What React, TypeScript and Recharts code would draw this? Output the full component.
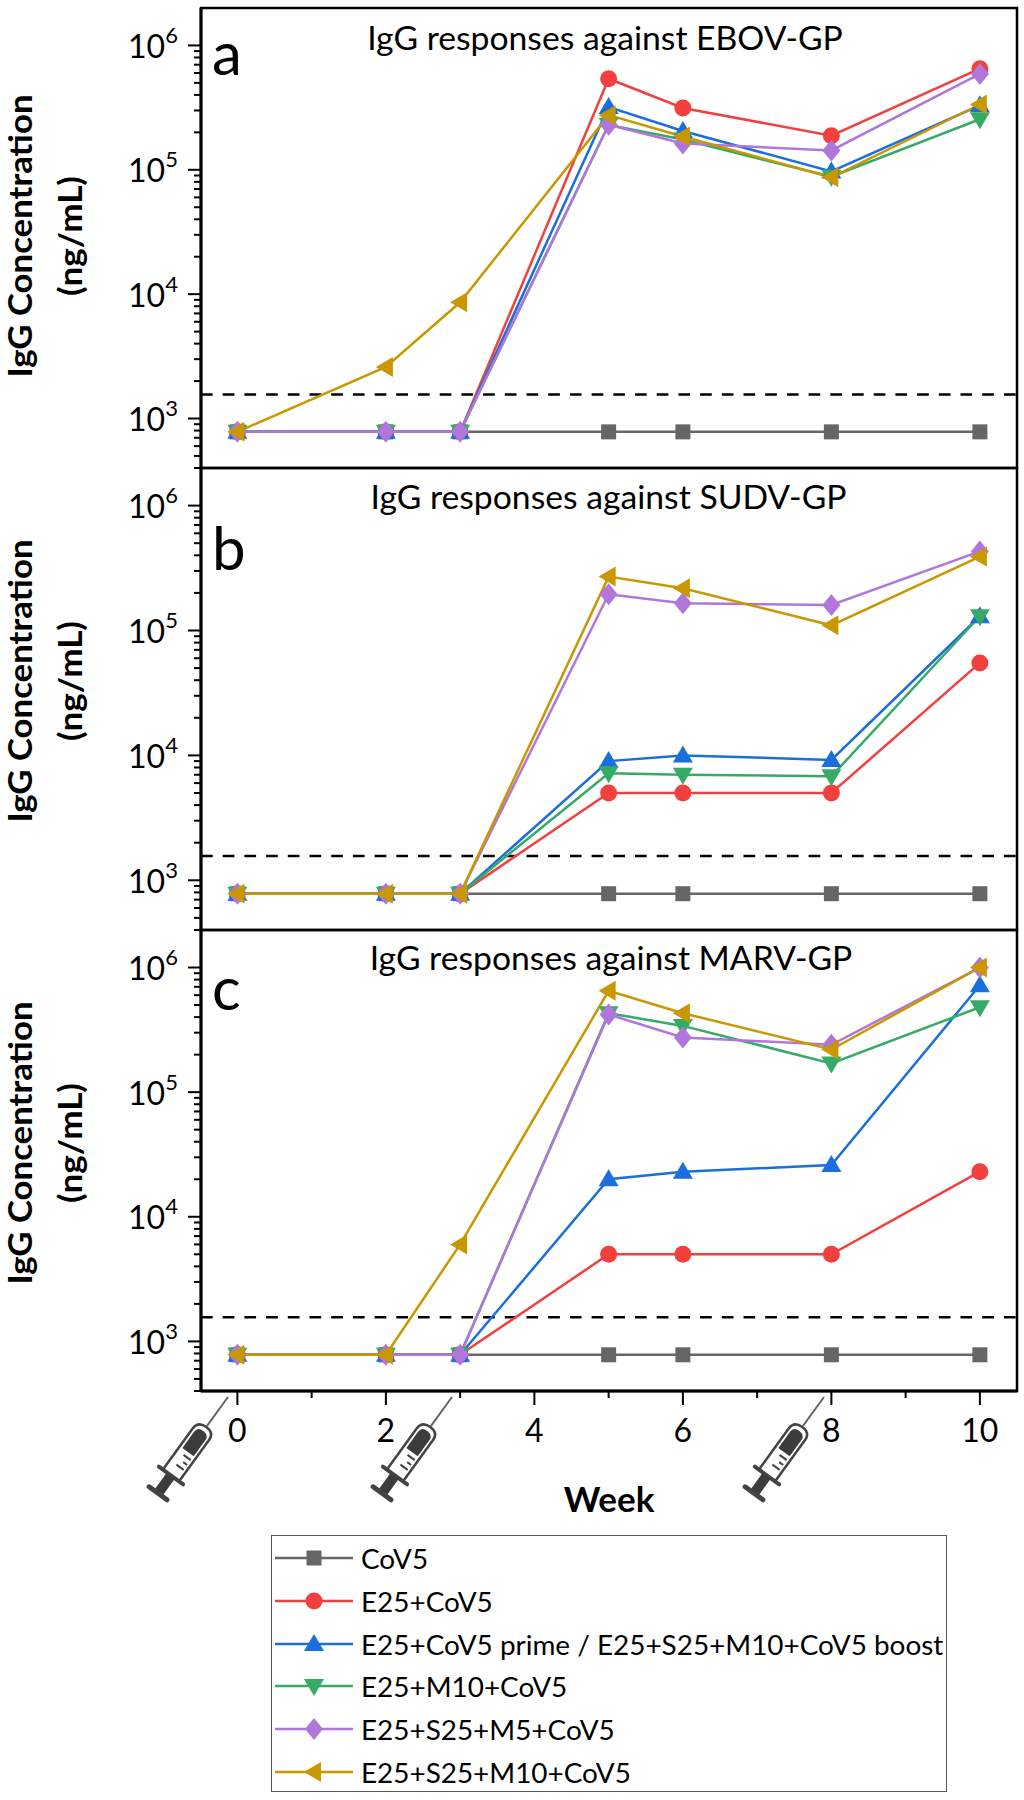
import React from 'react';
import { LineChart, Line, XAxis, YAxis, ReferenceLine, ReferenceArea, Legend } from 'recharts';

const weeks = [0, 2, 3, 5, 6, 8, 10];
const weekTicks = [0, 1, 2, 3, 4, 5, 6, 7, 8, 9, 10];
const decades = [1e3, 1e4, 1e5, 1e6];
const minorTicks = [
  400, 500, 600, 700, 800, 900,
  2e3, 3e3, 4e3, 5e3, 6e3, 7e3, 8e3, 9e3,
  2e4, 3e4, 4e4, 5e4, 6e4, 7e4, 8e4, 9e4,
  2e5, 3e5, 4e5, 5e5, 6e5, 7e5, 8e5, 9e5,
];
const cutoff = 1562;

const names = [
  'CoV5',
  'E25+CoV5',
  'E25+CoV5 prime / E25+S25+M10+CoV5 boost',
  'E25+M10+CoV5',
  'E25+S25+M5+CoV5',
  'E25+S25+M10+CoV5',
];
const colors = ['#666666', '#f2403f', '#1a6fdc', '#36ab68', '#b076dc', '#c99700'];
const shapes = ['square', 'circle', 'up', 'down', 'diamond', 'left'];

const control = [781, 781, 781, 781, 781, 781, 781];

const ebov = [
  control,
  [781, 781, 781, 5.4e5, 3.14e5, 1.88e5, 6.5e5],
  [781, 781, 781, 3.2e5, 2.05e5, 9.7e4, 3.3e5],
  [781, 781, 781, 2.3e5, 1.75e5, 8.8e4, 2.55e5],
  [781, 781, 781, 2.3e5, 1.63e5, 1.43e5, 5.9e5],
  [781, 2.6e3, 8.6e3, 2.75e5, 1.85e5, 8.7e4, 3.35e5],
];
const sudv = [
  control,
  [781, 781, 781, 5e3, 5e3, 5e3, 5.5e4],
  [781, 781, 781, 9e3, 1e4, 9.2e3, 1.3e5],
  [781, 781, 781, 7.2e3, 7e3, 6.8e3, 1.3e5],
  [781, 781, 781, 1.95e5, 1.65e5, 1.6e5, 4.3e5],
  [781, 781, 781, 2.7e5, 2.18e5, 1.1e5, 3.9e5],
];
const marv = [
  control,
  [781, 781, 781, 5e3, 5e3, 5e3, 2.3e4],
  [781, 781, 781, 2e4, 2.3e4, 2.6e4, 7.2e5],
  [781, 781, 781, 4.3e5, 3.4e5, 1.7e5, 4.8e5],
  [781, 781, 781, 4.2e5, 2.75e5, 2.4e5, 1e6],
  [781, 781, 6e3, 6.5e5, 4.3e5, 2.2e5, 1e6],
];

const FONT = 'Lato, sans-serif';

const makeRows = (panel: number[][]) =>
  weeks.map((week, i) => {
    const row: Record<string, number> = { week };
    names.forEach((name, s) => {
      row[name] = panel[s][i];
    });
    return row;
  });

const Marker = ({ kind, cx, cy, fill }: { kind: string; cx: number; cy: number; fill: string }) => {
  if (kind === 'square') return <rect x={cx - 7.5} y={cy - 7.5} width={15} height={15} fill={fill} />;
  if (kind === 'circle') return <circle cx={cx} cy={cy} r={8.5} fill={fill} />;
  let pts = '';
  if (kind === 'up') pts = `${cx},${cy - 10} ${cx + 10},${cy + 7} ${cx - 10},${cy + 7}`;
  if (kind === 'down') pts = `${cx},${cy + 10} ${cx + 10},${cy - 7} ${cx - 10},${cy - 7}`;
  if (kind === 'left') pts = `${cx - 10},${cy} ${cx + 7},${cy - 10} ${cx + 7},${cy + 10}`;
  if (kind === 'diamond') pts = `${cx},${cy - 11} ${cx + 9},${cy} ${cx},${cy + 11} ${cx - 9},${cy}`;
  return <polygon points={pts} fill={fill} />;
};

const YTick = ({ x, y, payload }: any) => {
  const major = decades.includes(payload.value);
  return (
    <g>
      <line x1={x} x2={x - (major ? 13 : 7)} y1={y} y2={y} stroke="#000" strokeWidth={2} />
      {major && (
        <text x={x - 73} y={y + 12.5} fontFamily={FONT} fontSize={32} fill="#000">
          10
          <tspan dy={-15} fontSize={22}>{Math.log10(payload.value)}</tspan>
        </text>
      )}
    </g>
  );
};

const XTick = ({ x, y, payload }: any) => {
  const major = payload.value % 2 === 0;
  return (
    <g>
      <line x1={x} x2={x} y1={y} y2={y + (major ? 14 : 7)} stroke="#000" strokeWidth={2} />
      {major && (
        <text x={x} y={y + 51} textAnchor="middle" fontFamily={FONT} fontSize={32} fill="#000">
          {payload.value}
        </text>
      )}
    </g>
  );
};

const LegendBox = () => (
  <div
    style={{
      width: 676,
      height: 257,
      border: '1.5px solid #555',
      boxSizing: 'border-box',
      background: '#fff',
      position: 'relative',
    }}
  >
    {names.map((name, i) => (
      <div
        key={name}
        style={{ position: 'absolute', left: 0, top: 1 + i * 42.8, height: 42, display: 'flex', alignItems: 'center' }}
      >
        <svg width={86} height={42} style={{ display: 'block' }}>
          <line x1={3} x2={81} y1={21} y2={21} stroke={colors[i]} strokeWidth={2.5} />
          <Marker kind={shapes[i]} cx={42} cy={21} fill={colors[i]} />
        </svg>
        <span style={{ marginLeft: 3, fontFamily: FONT, fontSize: 27.9, color: '#000', whiteSpace: 'nowrap' }}>{name}</span>
      </div>
    ))}
  </div>
);

const Panel = ({ panel, top, height, bottomMargin, last }: any) => (
  <div style={{ position: 'absolute', left: 0, top }}>
    <LineChart
      width={1024}
      height={height}
      data={makeRows(panel)}
      margin={{ top: 8, right: 7, bottom: bottomMargin, left: 0 }}
    >
      <XAxis
        dataKey="week"
        type="number"
        domain={[-0.49, 10.5]}
        ticks={weekTicks}
        interval={0}
        tick={last ? <XTick /> : false}
        tickLine={false}
        tickSize={0}
        tickMargin={0}
        height={last ? 60 : 0}
        axisLine={{ stroke: '#000', strokeWidth: 3 }}
      />
      <YAxis
        scale="log"
        domain={[400, 2e6]}
        allowDataOverflow
        ticks={[...decades, ...minorTicks]}
        interval={0}
        width={201}
        tick={<YTick />}
        tickLine={false}
        tickSize={0}
        tickMargin={0}
        axisLine={{ stroke: '#000', strokeWidth: 3 }}
      />
      <ReferenceArea x1={-0.49} x2={10.5} y1={400} y2={2e6} fill="none" stroke="#000" strokeWidth={2.5} />
      <ReferenceLine y={cutoff} stroke="#000" strokeWidth={2.5} strokeDasharray="11.7 10" />
      {names.map((name, i) => (
        <Line
          key={name}
          dataKey={name}
          stroke={colors[i]}
          strokeWidth={2.5}
          isAnimationActive={false}
          dot={({ cx, cy, index }: any) => (
            <Marker key={index} kind={shapes[i]} cx={cx} cy={cy} fill={colors[i]} />
          )}
        />
      ))}
      {last && (
        <Legend
          layout="vertical"
          align="center"
          verticalAlign="middle"
          wrapperStyle={{ left: 271, top: 1535 - top, width: 676, height: 257 }}
          content={<LegendBox />}
        />
      )}
    </LineChart>
  </div>
);

const Syringe = ({ x, y }: { x: number; y: number }) => (
  <g transform={`translate(${x},${y}) rotate(36)`} fill="none" stroke="#444">
    <line x1={0} y1={0} x2={0} y2={36} stroke="#666" strokeWidth={2} />
    <path d="M-10,96 L-10,46 Q-10,37 0,37 Q10,37 10,46 L10,96" strokeWidth={2.5} />
    <path d="M-7,68 L-7,48 Q-7,42 0,42 Q7,42 7,48 L7,68 Z" fill="#3c3c3c" stroke="none" />
    <line x1={-2} x2={7} y1={73} y2={73} strokeWidth={2} />
    <line x1={2} x2={7} y1={79} y2={79} strokeWidth={2} />
    <line x1={-2} x2={7} y1={85} y2={85} strokeWidth={2} />
    <line x1={-15} x2={15} y1={97} y2={97} strokeWidth={4} strokeLinecap="round" />
    <rect x={-5} y={98} width={10} height={20} fill="#3c3c3c" stroke="none" />
    <line x1={-11} x2={11} y1={119} y2={119} strokeWidth={5} strokeLinecap="round" />
  </g>
);

const titles = ['IgG responses against EBOV-GP', 'IgG responses against SUDV-GP', 'IgG responses against MARV-GP'];
const titleX = [605, 608.5, 611];
const titleY = [50, 509, 970];
const letters = ['a', 'b', 'c'];
const letterY = [75, 570, 1010];
const labelCenter = [236, 681, 1143];
const syringeX = [228, 452, 824];

export default function App() {
  return (
    <div style={{ position: 'absolute', left: 0, top: 0, width: 1024, height: 1800, background: '#fff' }}>
      <Panel panel={ebov} top={0} height={480} bottomMargin={12} />
      <Panel panel={sudv} top={460} height={482} bottomMargin={12} />
      <Panel panel={marv} top={922} height={878} bottomMargin={349} last />
      <svg width={1024} height={1800} style={{ position: 'absolute', left: 0, top: 0, pointerEvents: 'none' }}>
        {titles.map((t, i) => (
          <text key={t} x={titleX[i]} y={titleY[i]} textAnchor="middle" fontFamily={FONT} fontSize={33.7} fill="#000">
            {t}
          </text>
        ))}
        {letters.map((l, i) => (
          <text key={l} x={212} y={letterY[i]} fontFamily={FONT} fontSize={60} fill="#000">
            {l}
          </text>
        ))}
        {labelCenter.map((c) => (
          <g key={c}>
            <text
              transform={`translate(32,${c}) rotate(-90)`}
              textAnchor="middle"
              fontFamily={FONT}
              fontWeight="bold"
              fontSize={33}
              textLength={283}
              lengthAdjust="spacingAndGlyphs"
              fill="#000"
            >
              IgG Concentration
            </text>
            <text
              transform={`translate(82,${c}) rotate(-90)`}
              textAnchor="middle"
              fontFamily={FONT}
              fontWeight="bold"
              fontSize={33}
              textLength={120}
              lengthAdjust="spacingAndGlyphs"
              fill="#000"
            >
              (ng/mL)
            </text>
          </g>
        ))}
        {syringeX.map((x) => (
          <Syringe key={x} x={x} y={1397} />
        ))}
        <text x={609} y={1512} textAnchor="middle" fontFamily={FONT} fontWeight="bold" fontSize={35} fill="#000">
          Week
        </text>
      </svg>
    </div>
  );
}
